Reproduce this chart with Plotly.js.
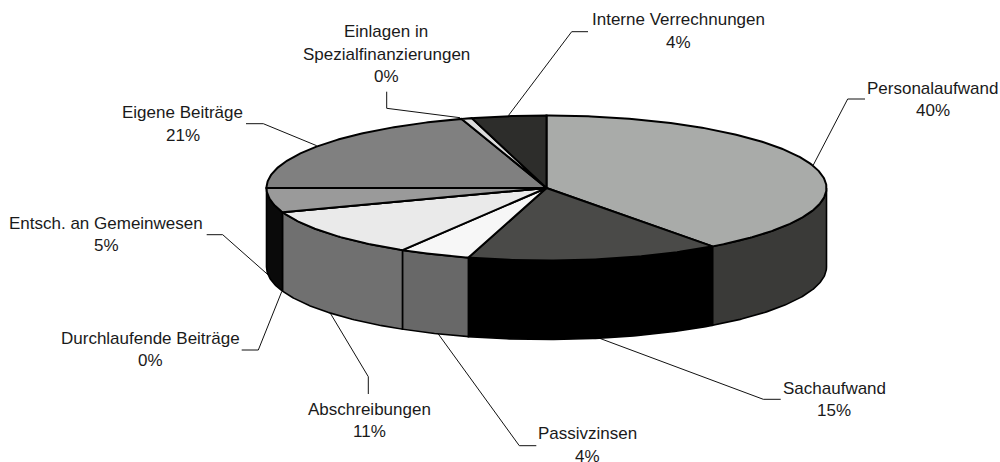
<!DOCTYPE html>
<html><head><meta charset="utf-8">
<script src="https://cdn.plot.ly/plotly-3.0.1.min.js"></script>
<style>html,body{margin:0;padding:0;background:#fff}#chart{width:1000px;height:462px}</style>
</head><body><div id="chart"></div>
<script>
// Data
const categories = ["Personalaufwand","Sachaufwand","Passivzinsen","Abschreibungen","Durchlaufende Beiträge","Entsch. an Gemeinwesen","Eigene Beiträge","Einlagen in Spezialfinanzierungen","Interne Verrechnungen"];
const labelLines = [["Personalaufwand"],["Sachaufwand"],["Passivzinsen"],["Abschreibungen"],["Durchlaufende Beiträge"],["Entsch. an Gemeinwesen"],["Eigene Beiträge"],["Einlagen in","Spezialfinanzierungen"],["Interne Verrechnungen"]];
const percentLabels = ["40%","15%","4%","11%","0%","5%","21%","0%","4%"];
const drawnShares = [39.9,14.6,4.1,11.0,0,5.4,20.1,0.6,4.3];
const topColors = ["#a9aba9","#4a4a48","#f7f7f7","#eaeaea","#000000","#9a9a9a","#808080","#dcdcdc","#2d2d2b"];
const sideColors = ["#3a3a38","#000000","#686868","#707070","#000000","#0a0a0a","#000000","#000000","#000000"];

// Layout of the tilted disc
const cx=546.5, cy=188, rx=280, ry=72.5, depth=79;
const labelCenters = [[932.7,88],[834,388],[587.7,433.5],[369,409],[150.5,338.3],[106,223.3],[182.7,112.7],[386.3,31.7],[678,19.5]];
const lineGap = 22.5;
const leaders = [
 [[865,99],[847.7,99],[813.3,165]],
 [[780.7,399.3],[763.3,399.3],[598,337.7]],
 [[536.3,445.7],[519.3,445.7],[438.3,334]],
 [[368.3,394],[368.3,376.7],[330,312.7]],
 [[241.7,350],[258.3,350],[281.7,291.7]],
 [[206.7,234.7],[222.7,234.7],[271.7,278]],
 [[246,123.7],[263.3,123.7],[316.7,145.7]],
 [[386.7,91.7],[386.7,108.3],[460,117.7]],
 [[588,31.7],[571.7,31.7],[508.3,115.7]]
];

const total = drawnShares.reduce((a,b)=>a+b,0);
const px = t => cx+rx*Math.sin(t);
const py = (t,d) => cy-ry*Math.cos(t)+(d||0);
const rad = s => s/total*2*Math.PI;
function arc(a,b,d){const n=Math.max(2,Math.ceil((b-a)/0.01));const xs=[],ys=[];
  for(let i=0;i<=n;i++){const t=a+(b-a)*i/n;xs.push(px(t));ys.push(py(t,d));}return [xs,ys];}

const traces=[];
let cum=0;
const spans=drawnShares.map(v=>{const s=[rad(cum),rad(cum+v)];cum+=v;return s;});

// Leader lines sit under the disc so their ends tuck under its outline
leaders.forEach(l=>{
  traces.push({type:"scatter",mode:"lines",x:l.map(p=>p[0]),y:l.map(p=>p[1]),line:{color:"#111",width:1},hoverinfo:"skip",showlegend:false});
});
// Side walls (front half only)
spans.forEach((sp,i)=>{
  const a=Math.max(sp[0],Math.PI/2), b=Math.min(sp[1],3*Math.PI/2);
  if(b<=a) return;
  const [x1,y1]=arc(a,b,0), [x2,y2]=arc(a,b,depth);
  traces.push({type:"scatter",mode:"lines",x:x1.concat(x2.slice().reverse(),[x1[0]]),y:y1.concat(y2.slice().reverse(),[y1[0]]),
    fill:"toself",fillcolor:sideColors[i],line:{color:"#000",width:1.6},hoverinfo:"skip",showlegend:false});
});
// Top faces
spans.forEach((sp,i)=>{
  const [x1,y1]=arc(sp[0],sp[1],0);
  traces.push({type:"scatter",mode:"lines",x:[cx].concat(x1,[cx]),y:[cy].concat(y1,[cy]),
    fill:"toself",fillcolor:topColors[i],line:{color:"#000",width:2},hoverinfo:"skip",showlegend:false,name:categories[i]});
});

const annotations=[];
labelLines.forEach((lines,i)=>{
  lines.concat([percentLabels[i]]).forEach((txt,j)=>{
    annotations.push({x:labelCenters[i][0],y:labelCenters[i][1]+j*lineGap,xref:"x",yref:"y",text:txt,showarrow:false,
      xanchor:"center",yanchor:"middle",font:{family:"Liberation Sans, Arial, sans-serif",size:17,color:"#1a1a1a"}});
  });
});

Plotly.newPlot("chart",traces,{
  width:1000,height:462,margin:{l:0,r:0,t:0,b:0},paper_bgcolor:"#fff",plot_bgcolor:"#fff",showlegend:false,
  xaxis:{range:[0,1000],visible:false,fixedrange:true},
  yaxis:{range:[462,0],visible:false,fixedrange:true},
  annotations:annotations
},{displayModeBar:false,staticPlot:true});
</script></body></html>
